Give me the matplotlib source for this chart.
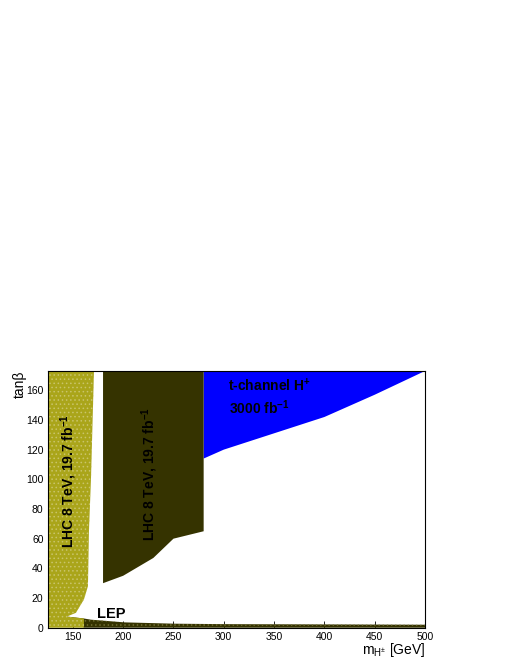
import matplotlib
matplotlib.use("Agg")
import matplotlib.pyplot as plt
import numpy as np

plt.rcParams['font.family'] = ['Liberation Sans', 'DejaVu Sans']
plt.rcParams['mathtext.fontset'] = 'custom'
plt.rcParams['mathtext.rm'] = 'Liberation Sans'
plt.rcParams['mathtext.it'] = 'Liberation Sans:italic'
plt.rcParams['mathtext.bf'] = 'Liberation Sans:bold'
plt.rcParams['hatch.linewidth'] = 0.6

# LHC 8 TeV (light, low-mass) excluded region boundary
lhc_low_x = [125, 125, 171, 168, 166, 165, 161, 153, 144, 161, 161]
lhc_low_y = [0, 173, 173, 100, 65, 28, 19, 10, 7.5, 6.2, 0]

# LHC 8 TeV (dark, high-mass) excluded region boundary
lhc_high_x = [180, 180, 200, 230, 250, 280, 280]
lhc_high_y = [173, 30, 35, 47, 60, 65, 173]

# LEP excluded band
lep_x = [144, 161, 168, 201, 251, 300, 400, 500, 500, 161]
lep_y = [7.5, 6.2, 5.4, 3.6, 2.7, 2.4, 2.2, 2.0, 0, 0]

# t-channel H+ 3000 fb^-1 reach
tch_x = [280, 280, 300, 350, 400, 450, 500]
tch_y = [173, 114, 120, 131, 142, 157, 173]

fig = plt.figure(figsize=(5.1, 6.6), dpi=100)
ax = fig.add_axes([47.7/510, (660-627.7)/660, (425-47.7)/510, (627.7-371)/660])

yellow = '#aaa51a'
dark = '#353300'

ax.fill(tch_x, tch_y, color='#0000ff', lw=0, zorder=1)
ax.fill(lep_x, lep_y, facecolor=dark, edgecolor='#6e6c30', hatch='....', lw=0, zorder=2)
ax.fill(lhc_high_x, lhc_high_y, color=dark, lw=0, zorder=2)
ax.fill(lhc_low_x, lhc_low_y, facecolor=yellow, edgecolor='#c9c46a', hatch='....', lw=0, zorder=3)

ax.set_xlim(125, 500)
ax.set_ylim(0, 173)
ax.set_xticks(np.arange(150, 501, 50))
ax.set_yticks(np.arange(0, 161, 20))
ax.tick_params(direction='in', length=5, width=0.6, labelsize=7.5, top=False, right=False, pad=3)
for s in ax.spines.values():
    s.set_linewidth(0.8)
    s.set_zorder(5)

lhc_label = r'LHC 8 TeV, 19.7 fb$^{\mathbf{-1}}$'
ax.text(145.5, 99, lhc_label, rotation=90, ha='center', va='center',
        fontsize=10, fontweight='bold', zorder=6)
ax.text(226, 103.5, lhc_label, rotation=90, ha='center', va='center',
        fontsize=10, fontweight='bold', zorder=6)
ax.text(304, 163, r't-channel H$^{\mathbf{+}}$', ha='left', va='center',
        fontsize=10, fontweight='bold', zorder=6)
ax.text(305, 148, r'3000 fb$^{\mathbf{-1}}$', ha='left', va='center',
        fontsize=10, fontweight='bold', zorder=6)
ax.text(174, 9, 'LEP', ha='left', va='center', fontsize=10.5, fontweight='bold', zorder=6)

fig.text(425/510, (660-650)/660, r'm$_{\mathregular{H^{\pm}}}$ [GeV]', ha='right', va='center', fontsize=10)
fig.text(20/510, (660-384)/660, 'tanβ', ha='center', va='center', rotation=90, fontsize=10)

fig.savefig('out.png', dpi=100)
